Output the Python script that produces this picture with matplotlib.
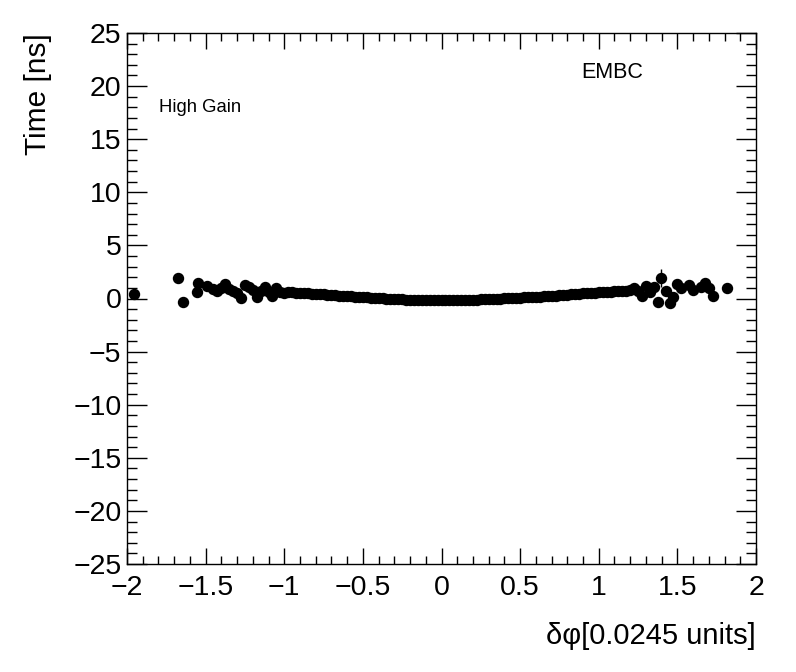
import numpy as np
import matplotlib.pyplot as plt
from matplotlib.ticker import MultipleLocator

plt.rcParams['font.family'] = ['Liberation Sans', 'DejaVu Sans']

# sparse / noisy bins on the left edge
x_left = [-1.955, -1.674, -1.642, -1.557, -1.547, -1.490, -1.455,
          -1.425, -1.400, -1.375, -1.350, -1.325, -1.300, -1.275, -1.250,
          -1.225, -1.200, -1.175, -1.150, -1.125, -1.100, -1.075, -1.050, -1.025]
y_left = [0.40, 1.90, -0.30, 0.64, 1.43, 1.18, 0.90,
          0.75, 0.95, 1.35, 0.85, 0.70, 0.55, 0.05, 1.30,
          1.10, 0.80, 0.10, 0.75, 1.05, 0.60, 0.20, 0.95, 0.65]

# well populated central bins, 0.025 wide
x_mid = np.arange(-1.0, 1.2001, 0.025)
y_mid = [0.55, 0.62, 0.58, 0.55, 0.56, 0.52, 0.50, 0.47, 0.45, 0.42,
         0.40, 0.36, 0.33, 0.30, 0.27, 0.25, 0.22, 0.20, 0.17, 0.14,
         0.12, 0.10, 0.07, 0.05, 0.03, 0.01, -0.01, -0.03, -0.05, -0.07,
         -0.09, -0.10, -0.11, -0.12, -0.13, -0.14, -0.15, -0.15, -0.16, -0.16,
         -0.16, -0.16, -0.16, -0.15, -0.15, -0.14, -0.13, -0.12, -0.11, -0.10,
         -0.08, -0.07, -0.05, -0.04, -0.02, -0.01, 0.01, 0.02, 0.04, 0.06,
         0.08, 0.10, 0.12, 0.14, 0.16, 0.18, 0.21, 0.23, 0.26, 0.28,
         0.31, 0.34, 0.37, 0.40, 0.43, 0.46, 0.49, 0.50, 0.53, 0.55,
         0.58, 0.60, 0.62, 0.65, 0.67, 0.70, 0.72, 0.75, 0.78]

# noisy bins on the right edge
x_right = [1.225, 1.250, 1.275, 1.300, 1.325, 1.350, 1.375, 1.393, 1.425, 1.450,
           1.475, 1.500, 1.525, 1.575, 1.600, 1.650, 1.675, 1.700, 1.725, 1.815]
y_right = [0.95, 0.70, 0.20, 1.20, 0.60, 1.05, -0.30, 1.90, 0.70, -0.40,
           0.15, 1.40, 0.95, 1.25, 0.80, 1.10, 1.45, 0.95, 0.25, 0.95]
err_right = [0.1, 0.1, 0.1, 0.1, 0.1, 0.1, 0.1, 0.85, 0.1, 0.1,
             0.1, 0.1, 0.1, 0.1, 0.1, 0.1, 0.1, 0.1, 0.1, 0.1]

x = np.concatenate([x_left, x_mid, x_right])
y = np.concatenate([y_left, y_mid, y_right])
yerr = np.concatenate([np.full(len(x_left), 0.1), np.full(len(x_mid), 0.03), err_right])

fig = plt.figure(figsize=(7.96, 6.72), dpi=100)
ax = fig.add_axes([127/796, 1 - 564/672, 629/796, 531/672])

ax.errorbar(x, y, yerr=yerr, fmt='o', color='black', ms=7.2, elinewidth=1, capsize=0)

ax.set_xlim(-2, 2)
ax.set_ylim(-25, 25)
ax.xaxis.set_major_locator(MultipleLocator(0.5))
ax.xaxis.set_minor_locator(MultipleLocator(0.1))
ax.yaxis.set_major_locator(MultipleLocator(5))
ax.yaxis.set_minor_locator(MultipleLocator(1))
ax.tick_params(axis='both', which='both', direction='in', top=True, right=True, width=1)
ax.tick_params(axis='x', which='major', length=11.5, labelsize=20.5, pad=8)
ax.tick_params(axis='x', which='minor', length=5.8)
ax.tick_params(axis='y', which='major', length=14.4, labelsize=20.5, pad=4)
ax.tick_params(axis='y', which='minor', length=7.2)
ax.xaxis.set_major_formatter(plt.FuncFormatter(lambda v, p: ('%g' % v).replace('-', '\u2212')))
ax.yaxis.set_major_formatter(plt.FuncFormatter(lambda v, p: ('%g' % v).replace('-', '\u2212')))
for s in ax.spines.values():
    s.set_linewidth(1)

fig.text(756/796, 1 - 636/672, '\u03b4\u03c6[0.0245 units]', ha='right', va='center', fontsize=21)
fig.text(38/796, 1 - 33/672, 'Time [ns]', rotation=90, ha='center', va='top', fontsize=21.5)
fig.text(159/796, 1 - 108/672, 'High Gain', ha='left', va='center', fontsize=13.3)
fig.text(581/796, 1 - 73/672, 'EMBC', ha='left', va='center', fontsize=15.5)

fig.savefig('out.png', dpi=100)
